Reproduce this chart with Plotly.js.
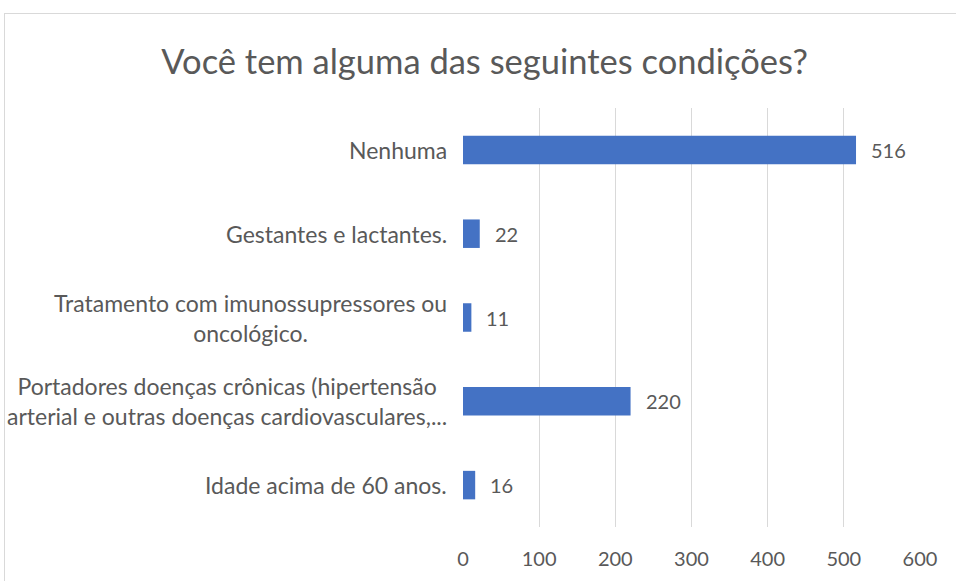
<!DOCTYPE html>
<html>
<head>
<meta charset="utf-8">
<script src="https://cdn.plot.ly/plotly-3.0.1.min.js"></script>
<style>
  html, body { margin: 0; padding: 0; background: #fff; }
  #wrap { position: relative; width: 956px; height: 581px; overflow: hidden; }
  #frame { position: absolute; left: 4px; top: 13px; width: 970px; height: 600px; border: 1px solid #d9d9d9; box-sizing: border-box; }
  #chart { position: absolute; left: 0; top: 0; width: 956px; height: 581px; }
</style>
</head>
<body>
<div id="wrap">
  <div id="frame"></div>
  <div id="chart"></div>
</div>
<script>
const chartTitle = "Você tem alguma das seguintes condições?";
const categories = [
  "Nenhuma",
  "Gestantes e lactantes.",
  "Tratamento com imunossupressores ou<br>oncológico.",
  "Portadores doenças crônicas (hipertensão<br>arterial e outras doenças cardiovasculares,...",
  "Idade acima de 60 anos."
];
const values = [516, 22, 11, 220, 16];
const xTicks = [0, 100, 200, 300, 400, 500, 600];

const FONT = "Lato, 'Open Sans', sans-serif";
const GRAY = "#595959";

const trace = {
  type: "bar",
  orientation: "h",
  x: values,
  y: categories,
  marker: { color: "#4472C4" },
  hoverinfo: "x+y",
  showlegend: false
};

const valueLabels = values.map((v, i) => ({
  x: v, y: categories[i], xref: "x", yref: "y",
  text: String(v), showarrow: false, xanchor: "left", yanchor: "middle",
  xshift: 13, font: { family: FONT, size: 20, color: GRAY }
}));

const catLabels = categories.map((c) => ({
  x: 0, y: c, xref: "paper", yref: "y",
  text: c, showarrow: false, xanchor: "right", yanchor: "middle",
  align: "center", xshift: -14,
  font: { family: FONT, size: 23, color: GRAY }
}));

const layout = {
  width: 956, height: 581,
  margin: { l: 463, r: 36, t: 108, b: 54, pad: 0 },
  paper_bgcolor: "rgba(0,0,0,0)",
  plot_bgcolor: "rgba(0,0,0,0)",
  title: { text: chartTitle, x: 0.507, xanchor: "center", y: 0.893, yanchor: "middle",
           font: { family: FONT, size: 34.5, color: GRAY } },
  bargap: 0.66,
  xaxis: {
    range: [0, 600], tickvals: xTicks, ticktext: xTicks.map(String),
    showgrid: true, gridcolor: "#d9d9d9", gridwidth: 1,
    zeroline: false, showline: false,
    ticks: "outside", ticklen: 14, tickcolor: "rgba(0,0,0,0)",
    tickfont: { family: FONT, size: 20, color: GRAY },
    fixedrange: true
  },
  yaxis: {
    type: "category", autorange: "reversed",
    showticklabels: false, showgrid: false, zeroline: false, showline: false,
    fixedrange: true
  },
  annotations: valueLabels.concat(catLabels)
};

Plotly.newPlot("chart", [trace], layout, { displayModeBar: false, staticPlot: true });
</script>
</body>
</html>
